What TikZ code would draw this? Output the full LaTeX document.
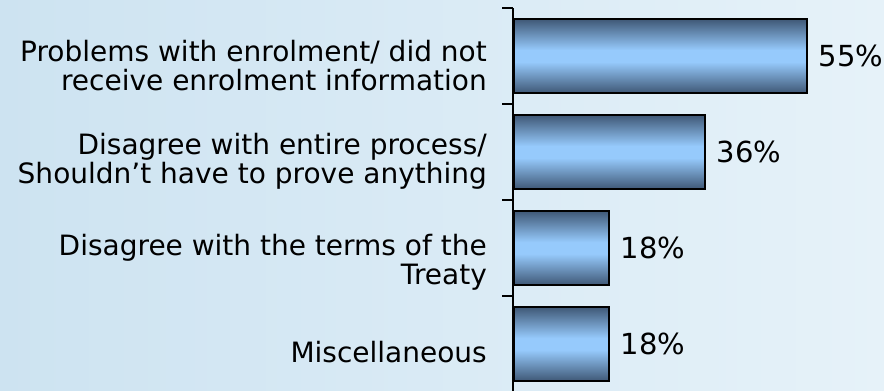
\documentclass[tikz,border=0pt]{standalone}
\usepackage{fontspec}
\setmainfont{DejaVu Sans}
\usetikzlibrary{positioning}
\definecolor{bgleft}{HTML}{CDE3F1}
\definecolor{bgright}{HTML}{E6F2F9}
\definecolor{baredge}{HTML}{3F5876}
\definecolor{barmid}{HTML}{96CAFC}
\pgfdeclareverticalshading{barshade}{100bp}{color(0bp)=(baredge); color(25bp)=(baredge); color(46bp)=(barmid); color(54bp)=(barmid); color(75bp)=(baredge); color(100bp)=(baredge)}
\tikzset{
  bar/.style={draw=black,line width=1.5pt,shading=barshade,anchor=west,inner sep=0pt,minimum height=74pt},
  cat/.style={anchor=east,align=right,inner sep=0pt,font=\fontsize{28}{29}\selectfont},
  pct/.style={inner sep=0pt,font=\fontsize{29}{30}\selectfont},
  axis/.style={line width=1.2pt,color=black}
}
\begin{document}
\begin{tikzpicture}[x=1pt,y=-1pt]
\shade [left color=bgleft,right color=bgright] (0,0) rectangle (884,391);
\useasboundingbox (0,0) rectangle (884,391);
\coordinate (axtop) at (513,8);
\coordinate (axbot) at (513,391);
\draw [axis] (axtop) -- (axbot);
\foreach \t in {8,104,200,296} \draw [axis] (502,\t) -- (513,\t);
\node [bar,minimum width=293pt] (bar1) at (513,56) {};
\node [bar,minimum width=191pt] (bar2) at (513,152) {};
\node [bar,minimum width=95pt] (bar3) at (513,248) {};
\node [bar,minimum width=95pt] (bar4) at (513,344) {};
\node [pct,right=11pt of bar1] (pct1) {55\%};
\node [pct,right=11pt of bar2] (pct2) {36\%};
\node [pct,right=11pt of bar3] (pct3) {18\%};
\node [pct,right=11pt of bar4] (pct4) {18\%};
\node [cat] (cat1) at (487,66) {Problems with enrolment/ did not\\receive enrolment information};
\node [cat] (cat2) at (487,161) {Disagree with entire process/\\Shouldn’t have to prove anything};
\node [cat] (cat3) at (487,262) {Disagree with the terms of the\\Treaty};
\node [cat] (cat4) at (487,352) {Miscellaneous};
\end{tikzpicture}
\end{document}
